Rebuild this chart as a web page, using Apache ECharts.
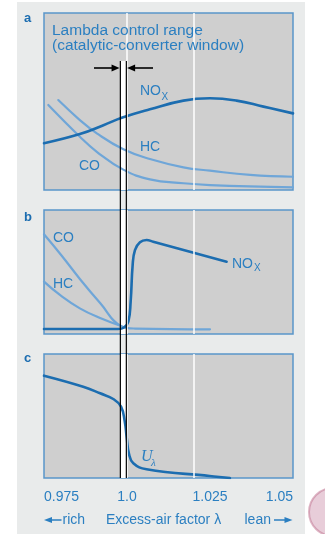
<!DOCTYPE html>
<html><head><meta charset="utf-8">
<script src="https://cdn.jsdelivr.net/npm/echarts@6/dist/echarts.min.js"></script>
<style>html,body{margin:0;padding:0;background:#fff}#c{width:325px;height:534px}</style>
</head><body><div id="c"></div>
<script>
// x axis (excess-air factor lambda)
const tickLabels = ['0.975', '1.0', '1.025', '1.05'];
// Panel a: emissions without catalytic converter
const aNOxX = [0.975, 0.9858, 0.9929, 0.9984, 1.0069, 1.0170, 1.025, 1.0330, 1.0411, 1.05];
const aNOxY = [26.4, 31.6, 36.6, 40.8, 45.6, 50.5, 51.8, 50.5, 47.1, 43.3];
const aHCX = [0.9793, 0.9858, 0.9909, 0.9989, 1.0069, 1.0170, 1.025, 1.0371, 1.05];
const aHCY = [50.8, 39.5, 32.0, 23.0, 17.5, 12.8, 10.9, 8.5, 7.5];
const aCOX = [0.9763, 0.9858, 0.9909, 0.9989, 1.0069, 1.0170, 1.025, 1.05];
const aCOY = [48.0, 30.1, 21.6, 11.5, 6.0, 3.8, 2.8, 1.5];
// Panel b: emissions after catalytic converter
const bCOX = [0.975, 0.9804, 0.9858, 0.9919, 0.9982, 1.0024, 1.025];
const bCOY = [80.4, 62.9, 44.4, 25.0, 6.5, 4.4, 3.8];
const bHCX = [0.975, 0.9798, 0.9858, 0.9919, 0.9982];
const bHCY = [42.2, 31.5, 20.7, 12.9, 6.5];
const bNOxX = [0.975, 0.9973, 0.9991, 1.0004, 1.0011, 1.0017, 1.0024, 1.0039, 1.0059, 1.0079, 1.0300];
const bNOxY = [4.0, 4.0, 5.2, 9.9, 26.0, 55.6, 67.7, 74.0, 75.8, 74.4, 58.3];
// Panel c: lambda sensor voltage
const cUX = [0.975, 0.9868, 0.9919, 0.9960, 0.9982, 0.9993, 0.9999, 1.0006, 1.0019, 1.0059, 1.0249, 1.0310];
const cUY = [82.5, 73.6, 68.3, 63.5, 57.5, 46.0, 33.0, 19.5, 11.9, 7.0, 1.6, 0.0];
// Control window and reference line
const windowLo = 0.998, windowHi = 0.9998, windowMid = 0.9989, refLine = 1.025;

const DARK = '#1c6db0', LIGHT = '#6fa6d8', TXT = '#2b7fc1', BORDER = '#5a96ca';
const FONT = '"Liberation Sans", Arial, sans-serif';
const zip = (xs, ys) => xs.map((x, i) => [x, ys[i]]);

const grids = [
  {left: 44, top: 13, width: 249, height: 177},
  {left: 44, top: 210, width: 249, height: 124},
  {left: 44, top: 354, width: 249, height: 124}
].map(g => Object.assign(g, {show: true, backgroundColor: '#cfcfcf', borderColor: BORDER, borderWidth: 1.5}));

const xAxes = [0, 1, 2].map(i => ({
  type: 'value', gridIndex: i, min: 0.975, max: 1.05, interval: 0.025,
  show: i === 2,
  axisLine: {show: false}, axisTick: {show: false}, splitLine: {show: false},
  axisLabel: {
    show: i === 2, margin: 12, color: TXT, fontSize: 14, fontFamily: FONT,
    alignMinLabel: 'left', alignMaxLabel: 'right',
    formatter: (v, idx) => tickLabels[Math.round((v - 0.975) / 0.025)]
  }
}));
const yAxes = [0, 1, 2].map(i => ({type: 'value', gridIndex: i, min: 0, max: 100, show: false}));

function line(name, data, gi, color, width) {
  return {
    name, type: 'line', xAxisIndex: gi, yAxisIndex: gi, data, smooth: 0.45,
    symbol: 'none', silent: true, z: 3,
    lineStyle: {color, width, cap: 'round', join: 'round'}
  };
}
function decor(gi, topV) {
  return {
    type: 'line', xAxisIndex: gi, yAxisIndex: gi, data: [], silent: true, z: 1,
    markArea: {silent: true, itemStyle: {color: '#ffffff'},
      data: [[{xAxis: windowLo, yAxis: 0}, {xAxis: windowHi, yAxis: topV}]]},
    markLine: {silent: true, symbol: 'none', label: {show: false},
      lineStyle: {color: '#ffffff', width: 1.5, type: 'solid'},
      data: [{xAxis: refLine}, {xAxis: windowMid}]}
  };
}

const series = [
  decor(0, 72.9), decor(1, 100), decor(2, 100),
  line('HC', zip(aHCX, aHCY), 0, LIGHT, 2.2),
  line('CO', zip(aCOX, aCOY), 0, LIGHT, 2.2),
  line('NOx', zip(aNOxX, aNOxY), 0, DARK, 2.6),
  line('CO', zip(bCOX, bCOY), 1, LIGHT, 2.2),
  line('HC', zip(bHCX, bHCY), 1, LIGHT, 2.2),
  line('NOx', zip(bNOxX, bNOxY), 1, DARK, 2.6),
  line('U', zip(cUX, cUY), 2, DARK, 2.6)
];

const chart = echarts.init(document.getElementById('c'), null, {renderer: 'canvas'});
chart.setOption({
  animation: false,
  backgroundColor: '#ffffff',
  grid: grids, xAxis: xAxes, yAxis: yAxes, series
});

const px = v => chart.convertToPixel({xAxisIndex: 0}, v);
const xLo = px(windowLo), xHi = px(windowHi);
function t(text, x, y, opts) {
  return {type: 'text', z: 20, silent: true, style: Object.assign({
    text, x, y, fill: TXT, font: '14px ' + FONT, textVerticalAlign: 'middle'}, opts || {})};
}
function arrow(x1, x2, y, color, head, half, lw) {
  const dir = Math.sign(x2 - x1);
  return [
    {type: 'line', z: 20, silent: true, shape: {x1, y1: y, x2: x2 - dir * head * 0.6, y2: y}, style: {stroke: color, lineWidth: lw}},
    {type: 'polygon', z: 20, silent: true, shape: {points: [[x2, y], [x2 - dir * head, y - half], [x2 - dir * head, y + half]]}, style: {fill: color}}
  ];
}
const g = [
  {type: 'rect', z: -10, silent: true, shape: {x: 17, y: 2, width: 288, height: 532}, style: {fill: '#e9ebeb'}},
  {type: 'circle', z: -10, silent: true, shape: {cx: 333, cy: 512, r: 24}, style: {fill: 'rgba(205,145,170,0.45)', stroke: 'rgba(190,110,140,0.5)', lineWidth: 2}},
  {type: 'line', z: 19, silent: true, shape: {x1: xLo, y1: 61, x2: xLo, y2: 478}, style: {stroke: '#000', lineWidth: 1.2}},
  {type: 'line', z: 19, silent: true, shape: {x1: xHi, y1: 61, x2: xHi, y2: 478}, style: {stroke: '#000', lineWidth: 1.2}},
  ...arrow(94, xLo - 0.8, 68, '#000', 8, 3.5, 1.6),
  ...arrow(153, xHi + 0.8, 68, '#000', 8, 3.5, 1.6),
  t('a', 24, 18, {fill: DARK, font: 'bold 13px ' + FONT}),
  t('b', 24, 217, {fill: DARK, font: 'bold 13px ' + FONT}),
  t('c', 24, 358, {fill: DARK, font: 'bold 13px ' + FONT}),
  t('Lambda control range', 52, 30.5, {font: '15.5px ' + FONT}),
  t('(catalytic-converter window)', 52, 45.5, {font: '15.5px ' + FONT}),
  t('NO', 140, 91), t('X', 161.5, 97.5, {font: '10px ' + FONT}),
  t('HC', 140, 147), t('CO', 79, 166),
  t('CO', 53, 238.5), t('HC', 53, 284),
  t('NO', 232, 264), t('X', 254, 268, {font: '10px ' + FONT}),
  t('U', 141, 457, {font: 'italic 16px "Liberation Serif", "DejaVu Serif", serif'}),
  t('λ', 151, 463, {font: 'italic 11px "Liberation Serif", "DejaVu Serif", serif'}),
  ...arrow(61.5, 44, 520, TXT, 8, 3, 1.5),
  t('rich', 62.5, 520),
  t('Excess-air factor λ', 106, 520),
  t('lean', 244.5, 520),
  ...arrow(274, 292.5, 520, TXT, 8, 3, 1.5)
];
chart.setOption({graphic: {elements: g}});
</script></body></html>
